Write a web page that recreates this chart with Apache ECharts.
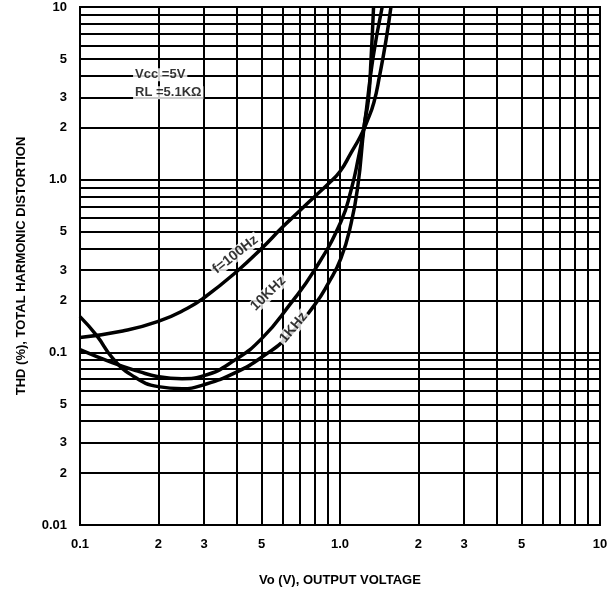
<!DOCTYPE html>
<html>
<head>
<meta charset="utf-8">
<script src="https://cdn.jsdelivr.net/npm/echarts@6/dist/echarts.min.js"></script>
<style>
html,body{margin:0;padding:0;background:#fff;}
#chart{width:612px;height:596px;}
</style>
</head>
<body>
<div id="chart"></div>
<script>
// ---- data ----
const curve100Hz = [[0.1,0.122],[0.146,0.133],[0.2,0.151],[0.259,0.18],[0.3,0.207],[0.4,0.293],[0.5,0.4],[0.6,0.53],[0.7,0.66],[0.8,0.8],[0.9,0.945],[1.0,1.115],[1.1,1.42],[1.2,1.79],[1.27,2.17],[1.35,2.8],[1.42,4.0],[1.5,6.3],[1.57,10]];
const curve10kHz = [[0.1,0.1036],[0.133,0.0872],[0.169,0.0773],[0.2,0.0723],[0.247,0.0704],[0.3,0.0733],[0.396,0.0907],[0.504,0.1217],[0.641,0.189],[0.8,0.301],[1.008,0.571],[1.104,0.875],[1.173,1.306],[1.238,2.03],[1.336,4.95],[1.453,10]];
const curve1kHz = [[0.1,0.161],[0.116,0.125],[0.133,0.0932],[0.157,0.0743],[0.2,0.0633],[0.247,0.0616],[0.3,0.065],[0.396,0.0763],[0.504,0.0944],[0.641,0.1266],[0.8,0.189],[0.9,0.25],[1.008,0.35],[1.104,0.56],[1.173,0.936],[1.238,2.03],[1.286,2.905],[1.316,4.95],[1.346,10]];

const xGridValues = [0.1,0.2,0.3,0.4,0.5,0.6,0.7,0.8,0.9,1,2,3,4,5,6,7,8,9,10];
const yGridValues = [0.01,0.02,0.03,0.04,0.05,0.06,0.07,0.08,0.09,0.1,0.2,0.3,0.4,0.5,0.6,0.7,0.8,0.9,1,2,3,4,5,6,7,8,9,10];
const xTickValues = [0.1,0.2,0.3,0.5,1,2,3,5,10];
const xTickTexts  = ['0.1','2','3','5','1.0','2','3','5','10'];
const yTickValues = [0.01,0.02,0.03,0.05,0.1,0.2,0.3,0.5,1,2,3,5,10];
const yTickTexts  = ['0.01','2','3','5','0.1','2','3','5','1.0','2','3','5','10'];

const curveLabelTexts = ['f=100Hz','10KHz','1KHz'];
const curveLabelAnchors = [[0.396,0.368],[0.53,0.219],[0.662,0.139]];
const conditionTexts = ['Vcc =5V','RL =5.1KΩ'];
const conditionAnchors = [[0.16,4.05],[0.16,3.19]];

const FONT = 'Liberation Sans, Arial, sans-serif';
const tickLabelStyle = {color:'#000', fontFamily:FONT, fontWeight:'bold', fontSize:13, textBorderWidth:0};

function tickText(values, texts, v){
  const i = values.findIndex(t => Math.abs(t - v) < 1e-9);
  return i >= 0 ? texts[i] : null;
}

const markData = [];
xGridValues.forEach(v => {
  const t = tickText(xTickValues, xTickTexts, v);
  markData.push({xAxis:v, label: t ? Object.assign({show:true, position:'start', distance:13, formatter:t}, tickLabelStyle) : {show:false}});
});
yGridValues.forEach(v => {
  const t = tickText(yTickValues, yTickTexts, v);
  markData.push({yAxis:v, label: t ? Object.assign({show:true, position:'start', distance:13, formatter:t}, tickLabelStyle) : {show:false}});
});

const curveRotations = [38, 44, 50];
const annotationData = curveLabelTexts.map((t,i) => ({
  value: curveLabelAnchors[i],
  label: {show:true, formatter:t, rotate:curveRotations[i], fontSize:14}
})).concat(conditionTexts.map((t,i) => ({
  value: conditionAnchors[i],
  label: {show:true, formatter:t, align:'left'}
})));

const lineSeries = (name, data) => ({
  name, type:'line', data, showSymbol:false, symbol:'none',
  smooth:0.5,
  lineStyle:{color:'#000', width:3.5},
  silent:true, z:5
});

const chart = echarts.init(document.getElementById('chart'), null, {renderer:'canvas'});
chart.setOption({
  backgroundColor:'#fff',
  animation:false,
  grid:{left:80, right:12, top:7, bottom:71, show:true, borderColor:'#000', borderWidth:2, backgroundColor:'transparent'},
  xAxis:{type:'log', logBase:10, min:0.1, max:10,
    axisLine:{show:false}, axisTick:{show:false}, axisLabel:{show:false}, splitLine:{show:false},
    name:'Vo (V), OUTPUT VOLTAGE', nameLocation:'middle', nameGap:49,
    nameTextStyle:{color:'#000', fontFamily:FONT, fontWeight:'bold', fontSize:13}},
  yAxis:{type:'log', logBase:10, min:0.01, max:10,
    axisLine:{show:false}, axisTick:{show:false}, axisLabel:{show:false}, splitLine:{show:false},
    name:'THD (%), TOTAL HARMONIC DISTORTION', nameLocation:'middle', nameGap:52,
    nameTextStyle:{color:'#000', fontFamily:FONT, fontWeight:'bold', fontSize:13}},
  series:[
    {type:'line', data:[], silent:true, z:1,
      markLine:{silent:true, symbol:['none','none'], animation:false,
        lineStyle:{color:'#000', width:2, type:'solid'},
        emphasis:{disabled:true},
        data:markData}},
    lineSeries('100Hz', curve100Hz),
    lineSeries('10kHz', curve10kHz),
    lineSeries('1kHz', curve1kHz),
    {type:'scatter', data:annotationData, symbolSize:0, silent:true, z:10,
      label:{show:true, position:'inside', color:'#000', fontFamily:FONT, fontWeight:'bold', fontSize:13,
        textBorderWidth:0, backgroundColor:'#fff', padding:[0,2]}}
  ]
});
</script>
</body>
</html>
